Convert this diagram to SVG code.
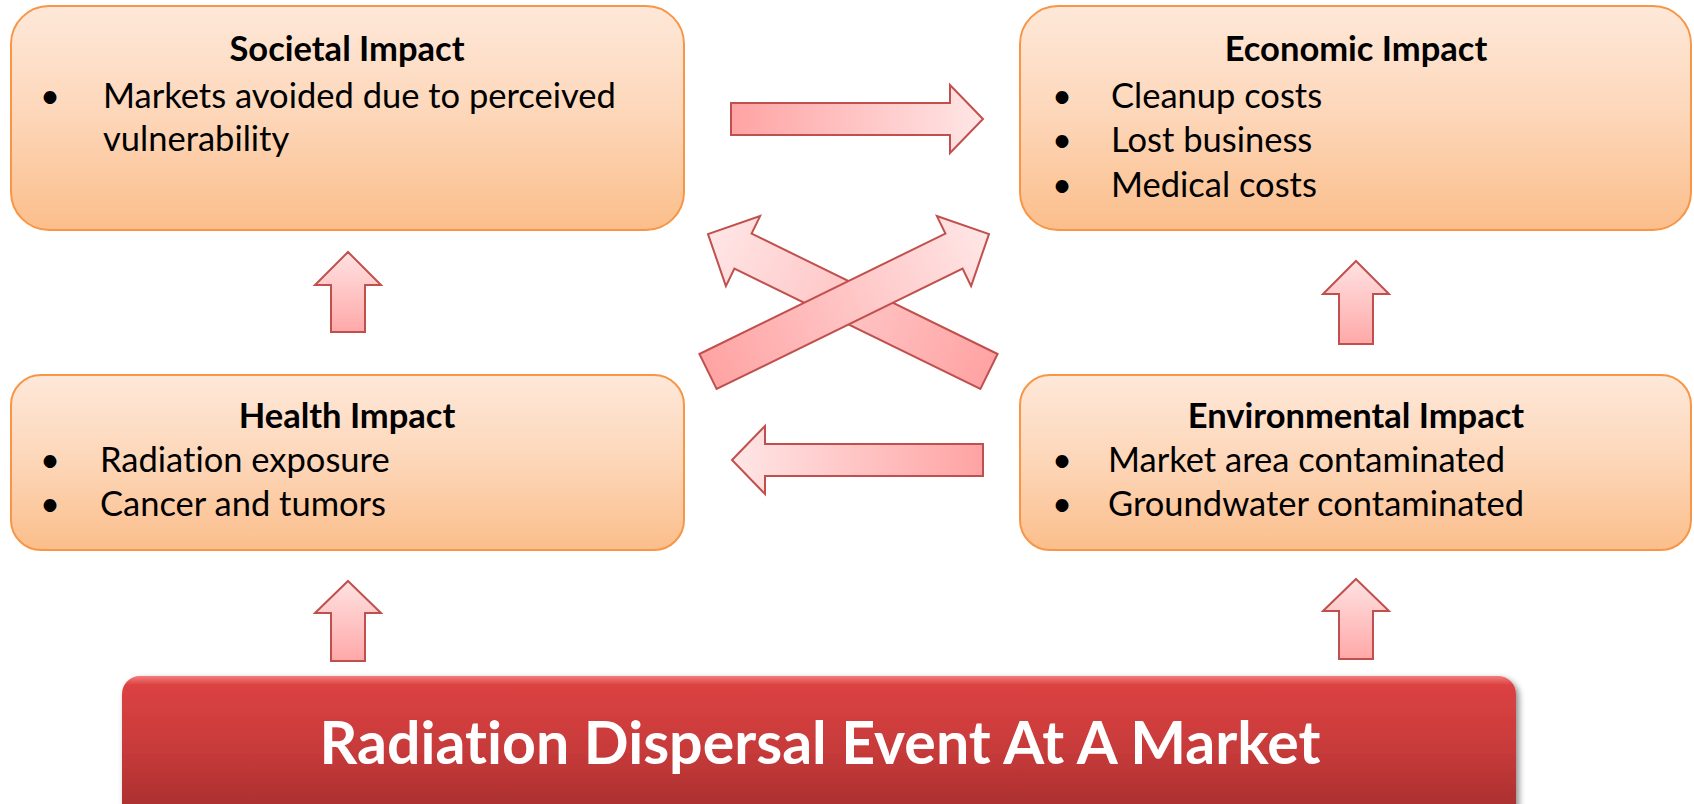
<svg xmlns="http://www.w3.org/2000/svg" width="1694" height="804" viewBox="0 0 1694 804">
<defs>
<linearGradient id="boxGrad" x1="0" y1="0" x2="0" y2="1">
<stop offset="0" stop-color="#fee8d9"/>
<stop offset="0.5" stop-color="#fdd6b8"/>
<stop offset="1" stop-color="#fbbe8b"/>
</linearGradient>
<linearGradient id="redGrad" x1="0" y1="0" x2="0" y2="1">
<stop offset="0" stop-color="#f27c7c"/>
<stop offset="0.06" stop-color="#dc4242"/>
<stop offset="0.5" stop-color="#c73a3a"/>
<stop offset="0.85" stop-color="#ad3030"/>
<stop offset="1" stop-color="#952a2a"/>
</linearGradient>
<linearGradient id="gRight" gradientUnits="userSpaceOnUse" x1="731" y1="0" x2="983" y2="0">
<stop offset="0" stop-color="#ffa3a3"/>
<stop offset="1" stop-color="#ffe6e6"/>
</linearGradient>
<linearGradient id="gLeft" gradientUnits="userSpaceOnUse" x1="983" y1="0" x2="732" y2="0">
<stop offset="0" stop-color="#ffa3a3"/>
<stop offset="1" stop-color="#ffe6e6"/>
</linearGradient>
<linearGradient id="gUp" x1="0" y1="1" x2="0" y2="0">
<stop offset="0" stop-color="#ffa8a8"/>
<stop offset="1" stop-color="#ffe2e2"/>
</linearGradient>
<linearGradient id="gA" gradientUnits="userSpaceOnUse" x1="708" y1="371" x2="989" y2="234">
<stop offset="0" stop-color="#ffa3a3"/>
<stop offset="1" stop-color="#ffe6e6"/>
</linearGradient>
<linearGradient id="gB" gradientUnits="userSpaceOnUse" x1="989" y1="371" x2="708" y2="234">
<stop offset="0" stop-color="#ffa3a3"/>
<stop offset="1" stop-color="#ffe6e6"/>
</linearGradient>
<filter id="shadow" x="-5%" y="-20%" width="110%" height="140%">
<feDropShadow dx="3" dy="3" stdDeviation="3" flood-color="#000" flood-opacity="0.45"/>
</filter>
</defs>
<style>
text { font-variant-ligatures: none; font-feature-settings: "liga" 0, "clig" 0; }
.box { fill: url(#boxGrad); stroke: #f79646; stroke-width: 2; }
.title { font-family: Lato, "Liberation Sans", sans-serif; font-weight: bold; font-size: 34.5px; fill: #000; text-anchor: middle; }
.item { font-family: Lato, "Liberation Sans", sans-serif; font-size: 34.5px; fill: #000; }
.arrow { stroke: #c0504d; stroke-width: 2; stroke-linejoin: miter; }
.main { font-family: Lato, "Liberation Sans", sans-serif; font-weight: bold; font-size: 60px; fill: #fff; text-anchor: middle; }
</style>
<rect width="1694" height="804" fill="#fff"/>

<g id="societal">
<rect class="box" x="11" y="6" width="673" height="224" rx="38"/>
<text class="title" x="347" y="61">Societal Impact</text>
<text class="item" x="40" y="108">•</text>
<text class="item" x="103" y="108">Markets avoided due to perceived</text>
<text class="item" x="103" y="151">vulnerability</text>
</g>

<g id="economic">
<rect class="box" x="1020" y="6" width="671" height="224" rx="38"/>
<text class="title" x="1356" y="61">Economic Impact</text>
<text class="item" x="1052" y="108">•</text>
<text class="item" x="1111" y="108">Cleanup costs</text>
<text class="item" x="1052" y="152">•</text>
<text class="item" x="1111" y="152">Lost business</text>
<text class="item" x="1052" y="197">•</text>
<text class="item" x="1111" y="197">Medical costs</text>
</g>

<g id="health">
<rect class="box" x="11" y="375" width="673" height="175" rx="30"/>
<text class="title" x="347" y="428">Health Impact</text>
<text class="item" x="40" y="472">•</text>
<text class="item" x="100" y="472">Radiation exposure</text>
<text class="item" x="40" y="516">•</text>
<text class="item" x="100" y="516">Cancer and tumors</text>
</g>

<g id="environmental">
<rect class="box" x="1020" y="375" width="671" height="175" rx="30"/>
<text class="title" x="1356" y="428">Environmental Impact</text>
<text class="item" x="1052" y="472">•</text>
<text class="item" x="1108" y="472">Market area contaminated</text>
<text class="item" x="1052" y="516">•</text>
<text class="item" x="1108" y="516">Groundwater contaminated</text>
</g>

<g id="event">
<rect x="122" y="676" width="1394" height="150" rx="18" fill="url(#redGrad)" filter="url(#shadow)"/>
<text class="main" x="820" y="764" textLength="1001" lengthAdjust="spacingAndGlyphs">Radiation Dispersal Event At A Market</text>
</g>

<g id="connectors">
<polygon class="arrow" fill="url(#gRight)" points="731,103 950,103 950,85 983,119 950,153 950,135 731,135"/>
<polygon class="arrow" fill="url(#gLeft)" points="983,444 765,444 765,426 732,460 765,494 765,476 983,476"/>
<polygon class="arrow" fill="url(#gB)" points="997.6,354 751.6,233.6 760.1,216.1 708,234 725.9,286.1 734.4,268.6 980.4,389"/>
<polygon class="arrow" fill="url(#gA)" points="699.4,354 945.4,233.6 936.9,216.1 989,234 971.1,286.1 962.6,268.6 716.6,389"/>
<polygon class="arrow" fill="url(#gUp)" points="348,252 381,285 365,285 365,332 331,332 331,285 315,285"/>
<polygon class="arrow" fill="url(#gUp)" points="348,581 381,613 365,613 365,661 331,661 331,613 315,613"/>
<polygon class="arrow" fill="url(#gUp)" points="1356,261 1389,294 1373,294 1373,344 1339,344 1339,294 1323,294"/>
<polygon class="arrow" fill="url(#gUp)" points="1356,579 1389,611 1373,611 1373,659 1339,659 1339,611 1323,611"/>
</g>
</svg>
